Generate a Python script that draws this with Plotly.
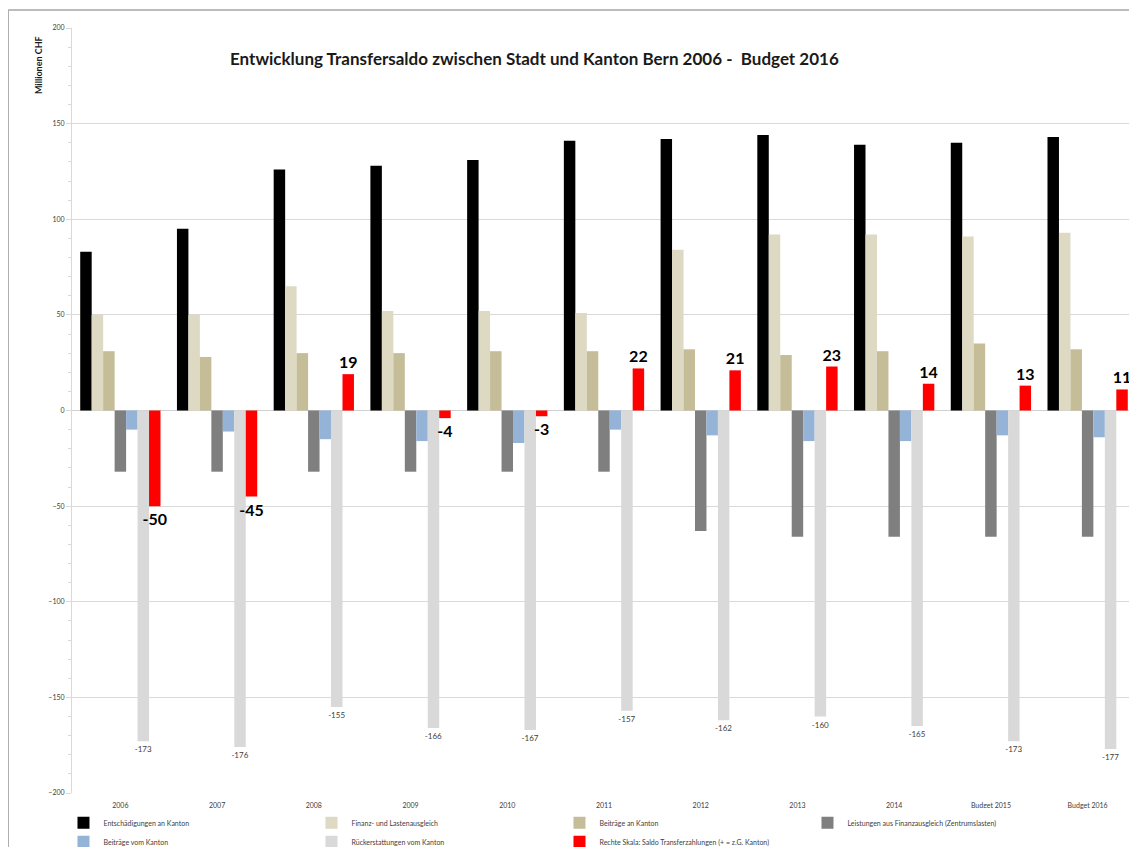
import plotly.graph_objects as go

categories = ["2006", "2007", "2008", "2009", "2010", "2011", "2012", "2013", "2014", "Budget 2015", "Budget 2016"]
series_names = [
    "Entschädigungen an Kanton",
    "Finanz- und Lastenausgleich",
    "Beiträge an Kanton",
    "Leistungen aus Finanzausgleich (Zentrumslasten)",
    "Beiträge vom Kanton",
    "Rückerstattungen vom Kanton",
    "Rechte Skala: Saldo Transferzahlungen (+ = z.G. Kanton)",
]
entschaedigungen = [83, 95, 126, 128, 131, 141, 142, 144, 139, 140, 143]
finanz_lasten = [50, 50, 65, 52, 52, 51, 84, 92, 92, 91, 93]
beitraege_an = [31, 28, 30, 30, 31, 31, 32, 29, 31, 35, 32]
leistungen = [-32, -32, -32, -32, -32, -32, -63, -66, -66, -66, -66]
beitraege_vom = [-10, -11, -15, -16, -17, -10, -13, -16, -16, -13, -14]
rueckerstattungen = [-173, -176, -155, -166, -167, -157, -162, -160, -165, -173, -177]
saldo = [-50, -45, 19, -4, -3, 22, 21, 23, 14, 13, 11]

colors = ["#000000", "#ddd9c3", "#c4bd97", "#7f7f7f", "#95b3d7", "#d9d9d9", "#ff0000"]
values = [entschaedigungen, finanz_lasten, beitraege_an, leistungen, beitraege_vom, rueckerstattungen, saldo]

FONT = "Lato"
fig = go.Figure()
for i, (name, vals, col) in enumerate(zip(series_names, values, colors)):
    kw = {}
    if i == 5:
        kw = dict(text=[str(v) for v in vals], textposition="outside", constraintext="none",
                  textfont=dict(size=8, color="#404040", family=FONT))
    elif i == 6:
        kw = dict(text=["<b>%d</b>" % v for v in vals], textposition="outside", constraintext="none",
                  textfont=dict(size=16, color="#000000", family=FONT))
    fig.add_trace(go.Bar(x=categories, y=vals, name=name, marker=dict(color=col, line=dict(width=0)),
                         cliponaxis=False, **kw))

fig.update_layout(
    width=1129, height=839,
    margin=dict(l=64, r=1, t=20, b=54, autoexpand=False),
    paper_bgcolor="white", plot_bgcolor="white",
    barmode="group", bargap=0.17, bargroupgap=0,
    font=dict(family=FONT, size=8, color="#404040"),
    showlegend=True,
    legend=dict(orientation="h", x=-0.008, xanchor="left", y=-0.02, yanchor="top",
                entrywidth=203, entrywidthmode="pixels", font=dict(size=7, color="#404040"),
                itemwidth=30, tracegroupgap=0),
)
fig.update_xaxes(showgrid=False, showline=False, ticks="outside", ticklen=6, tickcolor="rgba(0,0,0,0)",
                 tickfont=dict(size=7, color="#404040"))
fig.update_yaxes(range=[-200, 200], dtick=50, showgrid=True, gridcolor="#d9d9d9", gridwidth=1,
                 zeroline=True, zerolinecolor="#d0d0d0", zerolinewidth=1,
                 showline=True, linecolor="#d9d9d9", ticks="outside", ticklen=5, tickcolor="#d9d9d9",
                 minor=dict(dtick=10, ticks="outside", ticklen=3, tickcolor="#d9d9d9", showgrid=False),
                 tickfont=dict(size=7, color="#404040"))

fig.add_annotation(text="<b>Entwicklung Transfersaldo zwischen Stadt und Kanton Bern 2006 -  Budget 2016</b>",
                   xref="paper", yref="paper", x=0.435, y=0.977, showarrow=False,
                   font=dict(size=17, color="#1a1a1a", family=FONT))
fig.add_annotation(text="<b>Millionen CHF</b>", xref="paper", yref="paper", x=-0.032, y=0.992,
                   xanchor="center", yanchor="top", textangle=-90, showarrow=False,
                   font=dict(size=9, color="#1a1a1a", family=FONT))
# outer chart border
fig.add_shape(type="line", xref="paper", yref="paper", x0=-0.06, x1=1.01, y0=1.0235, y1=1.0235,
              line=dict(color="#a6a6a6", width=1.5))
fig.add_shape(type="line", xref="paper", yref="paper", x0=-0.06, x1=-0.06, y0=1.0235, y1=-0.1,
              line=dict(color="#a6a6a6", width=1.5))

fig.write_html("out.html")
